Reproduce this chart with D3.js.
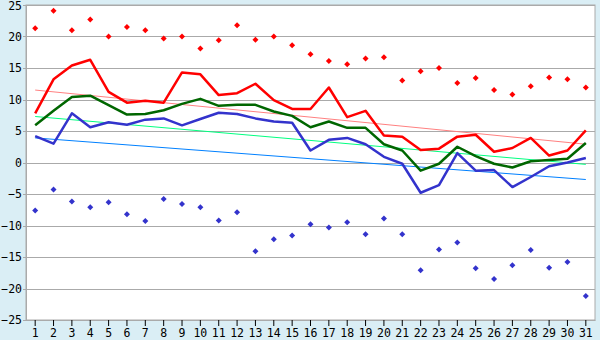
<!DOCTYPE html>
<html>
<head>
<meta charset="utf-8">
<script src="https://cdn.jsdelivr.net/npm/d3@7"></script>
<style>
  body { margin: 0; background: #daeef5; }
  svg { display: block; }
  .axis text { font-family: "DejaVu Sans Mono", monospace; font-size: 11.5px; fill: #000; }
</style>
</head>
<body>
<svg id="chart"></svg>
<script>
const days = d3.range(1, 32);

const maxPoints = [21.3, 24.1, 21.0, 22.7, 20.0, 21.5, 21.0, 19.7, 20.0, 18.1,
  19.4, 21.8, 19.5, 20.0, 18.6, 17.2, 16.1, 15.6, 16.5, 16.7,
  13.0, 14.5, 15.0, 12.6, 13.4, 11.5, 10.8, 12.1, 13.5, 13.2, 11.9];

const minPoints = [-7.6, -4.3, -6.2, -7.1, -6.3, -8.2, -9.3, -5.8, -6.6, -7.1,
  -9.2, -7.9, -14.1, -12.2, -11.6, -9.8, -10.3, -9.5, -11.4, -8.9,
  -11.4, -17.1, -13.8, -12.7, -16.8, -18.5, -16.3, -13.9, -16.7, -15.8, -21.2];

const redLine = [7.8, 13.2, 15.4, 16.3, 11.2, 9.5, 9.8, 9.5, 14.3, 14.0,
  10.7, 11.0, 12.5, 9.9, 8.5, 8.5, 11.9, 7.2, 8.2, 4.3,
  4.1, 2.0, 2.2, 4.1, 4.4, 1.7, 2.3, 3.9, 1.1, 1.9, 5.1];

const greenLine = [5.9, 8.2, 10.4, 10.6, 9.1, 7.6, 7.7, 8.3, 9.3, 10.1,
  9.0, 9.15, 9.15, 8.1, 7.4, 5.6, 6.5, 5.5, 5.5, 2.9,
  1.9, -1.3, -0.2, 2.5, 1.0, -0.2, -0.8, 0.2, 0.4, 0.6, 3.1];

const blueLine = [4.2, 3.0, 7.8, 5.6, 6.4, 6.0, 6.8, 7.0, 5.9, 6.9,
  7.9, 7.7, 7.0, 6.5, 6.3, 1.9, 3.6, 3.9, 2.9, 0.9,
  -0.2, -4.8, -3.6, 1.5, -1.3, -1.2, -3.9, -2.3, -0.6, 0.0, 0.7];

// trend lines: [value at day 1, value at day 31]
const redTrend = [11.5, 2.9];
const greenTrend = [7.3, -0.3];
const blueTrend = [3.9, -2.7];

const yTicks = [-25, -20, -15, -10, -5, 0, 5, 10, 15, 20, 25];

const W = 600, H = 340;
const margin = { top: 5, right: 5, bottom: 20, left: 26 };
const width = W - margin.left - margin.right;
const height = H - margin.top - margin.bottom;

const svg = d3.select("#chart").attr("width", W).attr("height", H);
const chart = svg.append("g").attr("transform", `translate(${margin.left}, ${margin.top})`);

const x = d3.scaleBand().domain(days).range([0, width]);
const cx = d => x(d) + x.bandwidth() / 2;
const y = d3.scaleLinear().domain([-25, 25]).range([height, 0]);

chart.append("rect")
  .attr("width", width).attr("height", height)
  .attr("fill", "#fff").attr("stroke", "#aaa");

// grid
chart.append("g")
  .selectAll("line")
  .data(yTicks)
  .join("line")
  .attr("x1", -3).attr("x2", width)
  .attr("y1", d => Math.round(y(d)) + 0.5)
  .attr("y2", d => Math.round(y(d)) + 0.5)
  .attr("stroke", "#aaa");

const yAxis = chart.append("g")
  .attr("class", "axis")
  .call(d3.axisLeft(y).tickValues(yTicks).tickSize(0).tickPadding(4));
yAxis.select(".domain").attr("stroke", "#aaa");
yAxis.selectAll(".tick text").attr("dy", d => d === 25 ? "0.42em" : "0.32em");

const xAxis = chart.append("g")
  .attr("class", "axis")
  .attr("transform", `translate(0, ${height})`)
  .call(d3.axisBottom(x).tickSize(6).tickPadding(3).tickSizeOuter(0));
xAxis.select(".domain").attr("stroke", "#aaa");
xAxis.selectAll(".tick line").attr("stroke", "#000");

const line = d3.line().x((d, i) => cx(days[i])).y(d => y(d));

const drawTrend = (ends, color) => {
  chart.append("line")
    .attr("x1", cx(1)).attr("x2", cx(31))
    .attr("y1", y(ends[0])).attr("y2", y(ends[1]))
    .attr("stroke", color).attr("stroke-width", 1);
};
drawTrend(redTrend, "#ff8080");
drawTrend(greenTrend, "#00ff80");
drawTrend(blueTrend, "#0080ff");

const drawLine = (vals, color) => {
  chart.append("path")
    .datum(vals)
    .attr("d", line)
    .attr("fill", "none")
    .attr("stroke", color)
    .attr("stroke-width", 2.5)
    .attr("stroke-linejoin", "round");
};
drawLine(redLine, "#ff0000");
drawLine(greenLine, "#006600");
drawLine(blueLine, "#3333cc");

// square marker turned 45 degrees gives an even diamond
const marker = d3.symbol().type(d3.symbolSquare).size(18);
const drawPoints = (vals, color) => {
  chart.append("g")
    .selectAll("path")
    .data(vals)
    .join("path")
    .attr("d", marker)
    .attr("transform", (d, i) => `translate(${cx(days[i])}, ${y(d)}) rotate(45)`)
    .attr("fill", color);
};
drawPoints(maxPoints, "#ff0000");
drawPoints(minPoints, "#3333cc");
</script>
</body>
</html>
